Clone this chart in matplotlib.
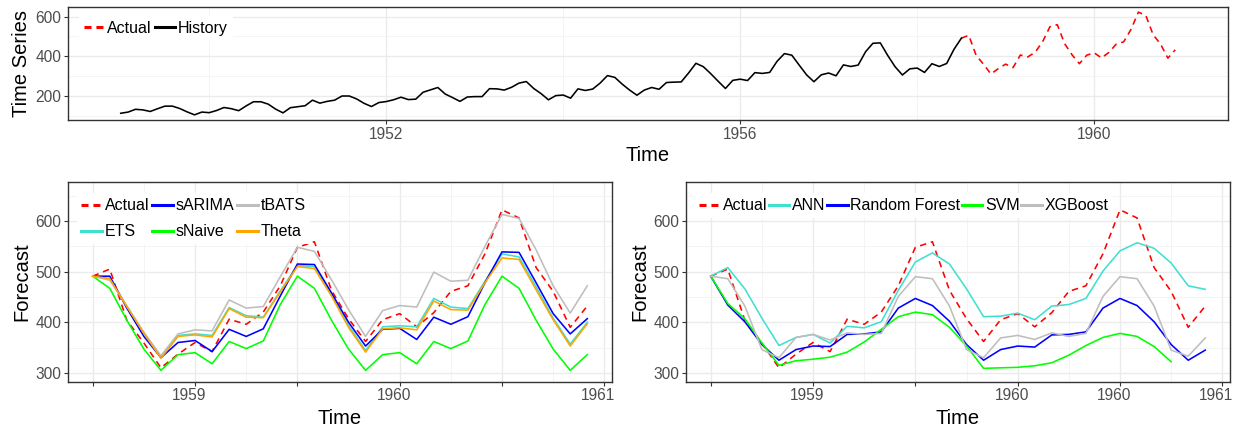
import numpy as np
import matplotlib
matplotlib.use("Agg")
import matplotlib.pyplot as plt
import matplotlib.transforms as mtransforms
from matplotlib.ticker import FixedLocator

plt.rcParams['font.family'] = ['Liberation Sans', 'DejaVu Sans']

# monthly air passengers 1949-1960
air = [112, 118, 132, 129, 121, 135, 148, 148, 136, 119, 104, 118,
       115, 126, 141, 135, 125, 149, 170, 170, 158, 133, 114, 140,
       145, 150, 178, 163, 172, 178, 199, 199, 184, 162, 146, 166,
       171, 180, 193, 181, 183, 218, 230, 242, 209, 191, 172, 194,
       196, 196, 236, 235, 229, 243, 264, 272, 237, 211, 180, 201,
       204, 188, 235, 227, 234, 264, 302, 293, 259, 229, 203, 229,
       242, 233, 267, 269, 270, 315, 364, 347, 312, 274, 237, 278,
       284, 277, 317, 313, 318, 374, 413, 405, 355, 306, 271, 306,
       315, 301, 356, 348, 355, 422, 465, 467, 404, 347, 305, 336,
       340, 318, 362, 348, 363, 435, 491, 505, 404, 359, 310, 337,
       360, 342, 406, 396, 420, 472, 548, 559, 463, 407, 362, 405,
       417, 391, 419, 461, 472, 535, 622, 606, 508, 461, 390, 432]
split = 114  # Jul 1958

# forecasts, Jul 1958 .. Dec 1960 (first point = last observed value)
actual_test = air[split:]
sarima = [491, 491, 428, 372, 330, 360, 364, 342, 386, 372, 387, 452, 515, 514, 458,
          400, 353, 386, 388, 366, 410, 396, 411, 478, 539, 538, 478, 417, 377, 407]
ets = [491, 486, 432, 379, 330, 374, 377, 374, 429, 413, 410, 462, 512, 510, 455,
       394, 344, 391, 393, 391, 447, 430, 427, 481, 535, 529, 470, 408, 357, 400]
theta = [491, 486, 431, 378, 329, 372, 375, 371, 427, 410, 409, 460, 510, 506, 452,
         390, 341, 387, 389, 385, 442, 425, 424, 478, 527, 524, 464, 405, 353, 397]
tbats = [491, 483, 432, 380, 334, 377, 385, 383, 444, 428, 431, 490, 548, 540, 484,
         425, 372, 423, 433, 430, 499, 481, 483, 550, 613, 605, 543, 472, 418, 472]
snaive = [491, 467, 404, 347, 305, 336, 340, 318, 362, 348, 363, 435, 491, 467, 404,
          347, 305, 336, 340, 318, 362, 348, 363, 435, 491, 467, 404, 347, 305, 336]
ann = [491, 508, 466, 408, 354, 370, 376, 359, 392, 389, 401, 463, 519, 537, 515,
       466, 411, 412, 418, 405, 432, 435, 447, 501, 541, 557, 546, 517, 472, 465]
rf = [491, 434, 401, 356, 325, 346, 353, 352, 376, 377, 381, 428, 447, 433, 402,
      356, 325, 346, 353, 351, 375, 376, 381, 428, 447, 433, 401, 356, 325, 345]
svm = [491, 437, 407, 359, 315, 324, 327, 331, 341, 361, 386, 411, 420, 415, 390,
       353, 309, 310, 311, 314, 320, 335, 354, 370, 378, 372, 352, 322]
xgb = [491, 486, 432, 346, 330, 370, 376, 365, 379, 376, 378, 451, 490, 486, 432,
       346, 330, 369, 374, 366, 379, 372, 378, 451, 490, 486, 432, 345, 333, 369]

bottom_ticks = [0, 6, 12, 18, 24, 30]
left_ticklabels = ["", "1959", "", "1960", "", "1961"]
right_ticklabels = ["", "1959", "", "1960", "1960", "1961"]

RED, BLUE, GRAY, TURQ, GREEN, ORANGE = "#FF0000", "#0000FF", "#BEBEBE", "#40E0D0", "#00FF00", "#FFA500"
LW = 1.15
DASH = (0, (4, 3))
TICK_FS = 11.2
TITLE_FS = 14.5
LEG_FS = 11.5


def style_ax(ax):
    for s in ax.spines.values():
        s.set_color("#333333")
        s.set_linewidth(1.0)
    ax.grid(which="major", color="#EBEBEB", linewidth=1.0)
    ax.grid(which="minor", color="#F2F2F2", linewidth=0.6)
    ax.set_axisbelow(True)
    ax.tick_params(which="major", length=2.75, width=0.8, color="#333333",
                   labelsize=TICK_FS, labelcolor="#4D4D4D", pad=2)
    ax.tick_params(which="minor", length=0)


def add_legend(ax, ncol, colspace=0.2):
    leg = ax.legend(loc="upper left", bbox_to_anchor=(0.004, 0.975), ncol=ncol,
                    fontsize=LEG_FS, frameon=True, facecolor="white", edgecolor="none",
                    framealpha=1, fancybox=False, handlelength=1.3, handletextpad=0.15,
                    columnspacing=colspace, labelspacing=0.7, borderpad=0.3, borderaxespad=0.4)
    for h in leg.get_lines():
        h.set_linewidth(2.2)
        if h.get_color() == RED:
            h.set_linestyle((0, (2.3, 1.6)))
    return leg


fig = plt.figure(figsize=(12.37, 4.30), dpi=100)
W, H = 1237.0, 430.0

# top panel: whole series
ax0 = fig.add_axes([68 / W, 1 - 120 / H, 1160 / W, 113 / H])
t = 1949 + np.arange(len(air)) / 12.0
ax0.plot(t[split:], air[split:], color=RED, lw=LW, linestyle=DASH, label="Actual")
ax0.plot(t[:split + 1], air[:split + 1], color="black", lw=LW, label="History")
ax0.set_xlim(1949 - 0.596, 1949 + 143 / 12 + 0.596)
ax0.set_ylim(78, 648)
ax0.xaxis.set_major_locator(FixedLocator([1952, 1956, 1960]))
ax0.xaxis.set_minor_locator(FixedLocator([1950, 1954, 1958]))
ax0.yaxis.set_major_locator(FixedLocator([200, 400, 600]))
ax0.yaxis.set_minor_locator(FixedLocator([100, 300, 500]))
style_ax(ax0)
ax0.set_xlabel("Time", fontsize=TITLE_FS, labelpad=3)
ax0.set_ylabel("Time Series", fontsize=TITLE_FS, labelpad=3)
add_legend(ax0, 2)

# bottom panels
months = np.arange(len(actual_test))


def setup_bottom(ax, labels):
    ax.set_xlim(-0.05 * 29, 29 * 1.05)
    ax.set_ylim(282, 677)
    ax.xaxis.set_major_locator(FixedLocator(bottom_ticks))
    ax.xaxis.set_minor_locator(FixedLocator([3, 9, 15, 21, 27]))
    ax.set_xticklabels([""] * len(bottom_ticks))
    ax.yaxis.set_major_locator(FixedLocator([300, 400, 500, 600]))
    ax.yaxis.set_minor_locator(FixedLocator([350, 450, 550, 650]))
    style_ax(ax)
    # tick labels sit a little left of their ticks in the original
    tr = ax.get_xaxis_transform() + mtransforms.ScaledTranslation(-6 / 100.0, -6 / 100.0,
                                                                  fig.dpi_scale_trans)
    for pos, lab in zip(bottom_ticks, labels):
        ax.text(pos, 0, lab, transform=tr, ha="center", va="top",
                fontsize=TICK_FS, color="#4D4D4D", clip_on=False)
    ax.set_xlabel("Time", fontsize=TITLE_FS, labelpad=15)
    ax.set_ylabel("Forecast", fontsize=TITLE_FS, labelpad=3)


ax1 = fig.add_axes([68 / W, 1 - 382 / H, 544 / W, 200 / H])
ax1.plot(months, actual_test, color=RED, lw=LW, linestyle=DASH, label="Actual")
ax1.plot(months, ets, color=TURQ, lw=LW, label="ETS")
ax1.plot(months, sarima, color=BLUE, lw=LW, label="sARIMA")
ax1.plot(months, snaive, color=GREEN, lw=LW, label="sNaive")
ax1.plot(months, tbats, color=GRAY, lw=LW, label="tBATS")
ax1.plot(months, theta, color=ORANGE, lw=LW, label="Theta")
setup_bottom(ax1, left_ticklabels)
add_legend(ax1, 3)

ax2 = fig.add_axes([686 / W, 1 - 382 / H, 544 / W, 200 / H])
ax2.plot(months, actual_test, color=RED, lw=LW, linestyle=DASH, label="Actual")
ax2.plot(months, ann, color=TURQ, lw=LW, label="ANN")
ax2.plot(months, rf, color=BLUE, lw=LW, label="Random Forest")
ax2.plot(np.arange(len(svm)), svm, color=GREEN, lw=LW, label="SVM")
ax2.plot(months, xgb, color=GRAY, lw=LW, label="XGBoost")
setup_bottom(ax2, right_ticklabels)
add_legend(ax2, 5, colspace=0.1)

fig.savefig("out.png", dpi=100)
